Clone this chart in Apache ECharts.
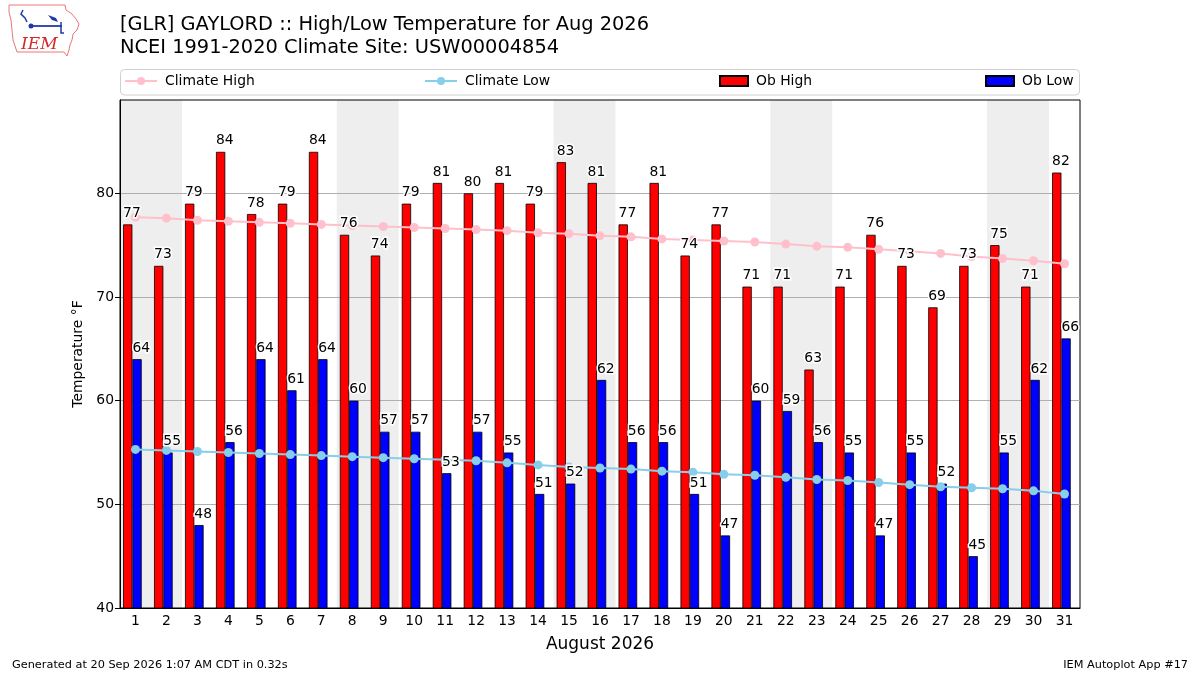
<!DOCTYPE html>
<html>
<head>
<meta charset="utf-8">
<title>GLR High/Low Temperature Aug 2026</title>
<script src="https://cdn.jsdelivr.net/npm/echarts@6/dist/echarts.min.js"></script>
<style>
  html, body { margin: 0; padding: 0; background: #fff; }
  #chart { width: 1200px; height: 675px; }
</style>
</head>
<body>
<div id="chart"></div>
<script>
// day of month labels
const days = ['1','2','3','4','5','6','7','8','9','10','11','12','13','14','15','16',
  '17','18','19','20','21','22','23','24','25','26','27','28','29','30','31'];

const obHigh = [77,73,79,84,78,79,84,76,74,79,81,80,81,79,83,81,77,81,74,77,71,71,63,71,76,73,69,73,75,71,82];
const obLow  = [64,55,48,56,64,61,64,60,57,57,53,57,55,51,52,62,56,56,51,47,60,59,56,55,47,55,52,45,55,62,66];

const climHigh = [77.7,77.6,77.4,77.3,77.2,77.1,77.0,76.9,76.8,76.7,76.6,76.5,76.4,76.2,76.1,75.9,
  75.8,75.6,75.5,75.4,75.3,75.1,74.9,74.8,74.6,74.4,74.2,73.9,73.7,73.5,73.2];
const climLow  = [55.3,55.2,55.1,55.0,54.9,54.8,54.7,54.6,54.5,54.4,54.3,54.2,54.0,53.8,53.6,53.5,
  53.4,53.2,53.1,52.9,52.8,52.6,52.4,52.3,52.1,51.9,51.7,51.6,51.5,51.3,51.0];

const yTicks = [40, 50, 60, 70, 80];
const yMin = 40, yMax = 89;

const FONT = 'DejaVu Sans';
const FS = 13.9;    // 10pt at 100dpi

// saturdays: each one shades itself and the following sunday
const saturdays = [];
days.forEach((d, i) => {
  if (new Date(2026, 7, +d).getDay() === 6) saturdays.push([i]);
});
const empty = days.map(() => '-');

const chart = echarts.init(document.getElementById('chart'));

const barW = 9.3;   // 0.3 of a day
const padW = 6.2;   // spacer so the pair sits at x-0.4 .. x+0.2

const valueLabel = {
  show: true,
  position: 'top',
  align: 'left',
  offset: [-barW / 2, 0],
  distance: 4,
  fontFamily: FONT,
  fontSize: FS,
  color: '#000',
  textBorderColor: '#fff',
  textBorderWidth: 3
};

function catAxis(show) {
  return {
    type: 'category',
    data: days,
    show: show,
    boundaryGap: true,
    axisLine: { lineStyle: { color: '#000', width: 1 } },
    axisTick: { alignWithLabel: true, length: 5, lineStyle: { color: '#000' } },
    axisLabel: { fontFamily: FONT, fontSize: FS, color: '#000', margin: 6 },
    splitLine: { show: false }
  };
}

const xMain = catAxis(true);
xMain.name = 'August 2026';
xMain.nameLocation = 'middle';
xMain.nameGap = 28;
xMain.nameTextStyle = { fontFamily: FONT, fontSize: 17, color: '#000' };

const legendBase = {
  orient: 'horizontal',
  top: 74,
  padding: 0,
  itemGap: 0,
  textStyle: { fontFamily: FONT, fontSize: FS, color: '#000', padding: [0, 0, 0, 3] }
};

function weekendBand(params, api) {
  const p = api.coord([api.value(0), yMin]);
  const w = api.size([1, 0])[0];
  const cs = params.coordSys;
  return {
    type: 'rect',
    shape: { x: p[0] - w / 2, y: cs.y, width: w * 2, height: cs.height },
    style: { fill: '#eeeeee' }
  };
}

const option = {
  animation: false,
  backgroundColor: '#fff',
  grid: {
    left: 120, right: 120, top: 100, bottom: 67,
    show: true, borderColor: '#000', borderWidth: 1, backgroundColor: 'transparent'
  },
  legend: [
    Object.assign({}, legendBase, { left: 124, data: ['Climate High'], itemWidth: 32, itemHeight: 10 }),
    Object.assign({}, legendBase, { left: 424, data: ['Climate Low'], itemWidth: 32, itemHeight: 10 }),
    Object.assign({}, legendBase, { left: 719, data: [{ name: 'Ob High', icon: 'rect' }], itemWidth: 28, itemHeight: 10 }),
    Object.assign({}, legendBase, { left: 985, data: [{ name: 'Ob Low', icon: 'rect' }], itemWidth: 28, itemHeight: 10 })
  ],
  xAxis: [xMain, catAxis(false)],
  yAxis: {
    type: 'value',
    min: yMin,
    max: yMax,
    interval: 10,
    name: 'Temperature °F',
    nameLocation: 'middle',
    nameGap: 34,
    nameTextStyle: { fontFamily: FONT, fontSize: FS, color: '#000' },
    axisLine: { show: true, lineStyle: { color: '#000', width: 1 } },
    axisTick: { show: true, length: 5, lineStyle: { color: '#000' }, customValues: yTicks },
    axisLabel: {
      fontFamily: FONT, fontSize: FS, color: '#000', margin: 6,
      customValues: yTicks,
      formatter: v => (v % 10 === 0 ? String(v) : '')
    },
    splitLine: { show: true, lineStyle: { color: '#b0b0b0', width: 1 } }
  },
  series: [
    {
      name: 'weekend', type: 'custom', xAxisIndex: 0, data: saturdays,
      renderItem: weekendBand, silent: true, z: -1, clip: true
    },
    {
      name: 'Ob High', type: 'bar', xAxisIndex: 0, data: obHigh,
      barWidth: barW, barGap: '0%', z: 2,
      itemStyle: { color: '#ff0000', borderColor: '#000', borderWidth: 0.8 }
    },
    {
      name: 'Ob Low', type: 'bar', xAxisIndex: 0, data: obLow,
      barWidth: barW, barGap: '0%', z: 2,
      itemStyle: { color: '#0000ff', borderColor: '#000', borderWidth: 0.8 }
    },
    {
      name: 'pad', type: 'bar', xAxisIndex: 0, data: empty,
      barWidth: padW, barGap: '0%', silent: true,
      itemStyle: { color: 'rgba(0,0,0,0)' }
    },
    {
      name: 'Climate High', type: 'line', xAxisIndex: 0, data: climHigh, z: 3,
      symbol: 'circle', symbolSize: 9,
      itemStyle: { color: '#ffc0cb' },
      lineStyle: { color: '#ffc0cb', width: 2 }
    },
    {
      name: 'Climate Low', type: 'line', xAxisIndex: 0, data: climLow, z: 3,
      symbol: 'circle', symbolSize: 9,
      itemStyle: { color: '#87ceeb' },
      lineStyle: { color: '#87ceeb', width: 2 }
    },
    // value labels drawn above the lines, on an overlaid axis with the same layout
    {
      name: 'lblHigh', type: 'bar', xAxisIndex: 1, data: obHigh,
      barWidth: barW, barGap: '0%', z: 6, silent: true,
      itemStyle: { color: 'rgba(0,0,0,0)' }, label: valueLabel
    },
    {
      name: 'lblLow', type: 'bar', xAxisIndex: 1, data: obLow,
      barWidth: barW, barGap: '0%', z: 6, silent: true,
      itemStyle: { color: 'rgba(0,0,0,0)' }, label: valueLabel
    },
    {
      name: 'lblPad', type: 'bar', xAxisIndex: 1, data: empty,
      barWidth: padW, barGap: '0%', silent: true,
      itemStyle: { color: 'rgba(0,0,0,0)' }
    }
  ],
  graphic: [
    // legend frame
    {
      type: 'rect', z: 1, silent: true,
      shape: { x: 120.5, y: 69.5, width: 959, height: 25.5, r: 4 },
      style: { fill: '#fff', stroke: '#d0d0d0', lineWidth: 1 }
    },
    {
      type: 'text', silent: true,
      style: { text: '[GLR] GAYLORD :: High/Low Temperature for Aug 2026', x: 120, y: 25,
        textAlign: 'left', textVerticalAlign: 'middle', verticalAlign: 'middle',
        fontFamily: FONT, fontSize: 19.4, fill: '#000' }
    },
    {
      type: 'text', silent: true,
      style: { text: 'NCEI 1991-2020 Climate Site: USW00004854', x: 120, y: 48,
        textAlign: 'left', textVerticalAlign: 'middle', verticalAlign: 'middle',
        fontFamily: FONT, fontSize: 19.4, fill: '#000' }
    },
    {
      type: 'text', silent: true,
      style: { text: 'Generated at 20 Sep 2026 1:07 AM CDT in 0.32s', x: 12, y: 665,
        textAlign: 'left', textVerticalAlign: 'middle', verticalAlign: 'middle',
        fontFamily: FONT, fontSize: 11.3, fill: '#000' }
    },
    {
      type: 'text', silent: true,
      style: { text: 'IEM Autoplot App #17', x: 1188, y: 665,
        textAlign: 'right', textVerticalAlign: 'middle', verticalAlign: 'middle',
        fontFamily: FONT, fontSize: 11.3, fill: '#000' }
    },
    // IEM logo (rough Iowa outline)
    {
      type: 'group', silent: true,
      children: [
        {
          type: 'polygon',
          shape: { points: [[9,5],[65,5],[66,10],[72,14],[76,19],[79,24],[77,30],[73,34],[72,40],
            [70,45],[69,50],[67,56],[64,52],[17,52],[15,46],[13,40],[12,30],[11,20],[9,12]] },
          style: { fill: 'none', stroke: '#e87878', lineWidth: 1 }
        },
        {
          type: 'polyline',
          shape: { points: [[23,10],[21,14],[25,18],[27,22]] },
          style: { stroke: '#1f3aa8', lineWidth: 1.5, fill: 'none' }
        },
        {
          type: 'polyline',
          shape: { points: [[31,26],[62,26]] },
          style: { stroke: '#1f3aa8', lineWidth: 1.8 }
        },
        {
          type: 'circle',
          shape: { cx: 31, cy: 26, r: 2.5 },
          style: { fill: '#1f3aa8' }
        },
        {
          type: 'polygon',
          shape: { points: [[48,15],[56,18],[58,22],[52,20]] },
          style: { fill: '#1f3aa8' }
        },
        {
          type: 'polyline',
          shape: { points: [[61,22],[61,33],[64,33]] },
          style: { stroke: '#1f3aa8', lineWidth: 1.5, fill: 'none' }
        },
        {
          type: 'text',
          style: { text: 'IEM', x: 21, y: 45, textVerticalAlign: 'middle', verticalAlign: 'middle',
            fontFamily: 'DejaVu Serif', fontStyle: 'italic', fontSize: 17, fill: '#d62828' }
        }
      ]
    }
  ]
};

chart.setOption(option);
</script>
</body>
</html>
